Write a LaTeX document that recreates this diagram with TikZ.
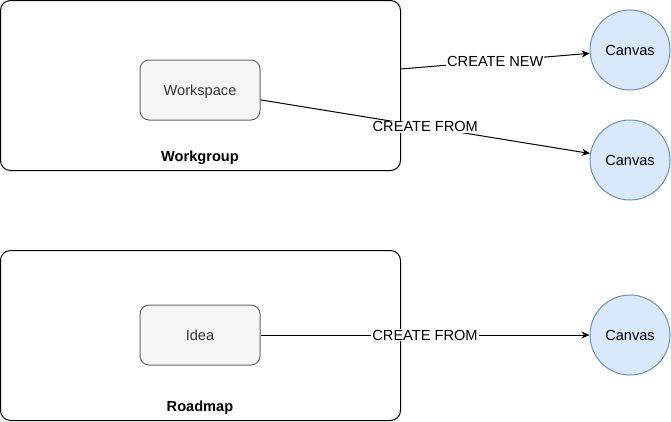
\documentclass[tikz,border=0pt]{standalone}
\usepackage{fontspec}
\setmainfont{Liberation Sans}
\usepackage{tikz}
\usetikzlibrary{arrows.meta}
\definecolor{boxfill}{HTML}{F5F5F5}
\definecolor{boxline}{HTML}{666666}
\definecolor{boxtext}{HTML}{333333}
\definecolor{canvfill}{HTML}{DAE8FC}
\definecolor{canvline}{HTML}{6C8EBF}
\newcommand{\labelfont}{\fontsize{14.6}{17}\selectfont}
\tikzset{
  group/.style={draw=black, line width=1pt, rounded corners=10pt, minimum width=400pt, minimum height=170pt, inner sep=0pt},
  item/.style={draw=boxline, fill=boxfill, text=boxtext, line width=1pt, rounded corners=9pt, minimum width=120pt, minimum height=60pt, inner sep=0pt, text height=11pt, text depth=0pt},
  canv/.style={circle, draw=canvline, fill=canvfill, line width=1pt, minimum size=80pt, inner sep=0pt},
  grouplabel/.style={font=\labelfont\bfseries},
  conn/.style={line width=1pt, -{Stealth[length=8pt,width=7pt,inset=2.5pt]}},
  edgelabel/.style={fill=white, inner sep=1pt}
}
\newcommand{\canvas}[3]{\node[canv] (#1) at (#2,#3) {Canvas};}

\begin{document}
\begin{tikzpicture}[x=1pt, y=-1pt, font=\labelfont]
\useasboundingbox (0,0) rectangle (671,421);
% workgroup with its workspace
\node[group] (wg) at (200.5,85.5) {};
\node[grouplabel] (wglab) at (200,158) {Workgroup};
\node[item] (ws) at (200,90) {Workspace};
% roadmap with its idea
\node[group] (rm) at (200.5,335.5) {};
\node[grouplabel] (rmlab) at (200,408) {Roadmap};
\node[item] (idea) at (200,335) {Idea};
% canvases
\canvas{cv1}{630}{50}
\canvas{cv2}{630}{160}
\canvas{cv3}{630}{335}
% connectors
\draw[conn] (wg) -- node[edgelabel] (lnew) {CREATE NEW} (cv1);
\draw[conn] (ws) -- node[edgelabel] (lfrom1) {CREATE FROM} (cv2);
\draw[conn] (idea) -- node[edgelabel] (lfrom2) {CREATE FROM} (cv3);
\end{tikzpicture}
\end{document}
